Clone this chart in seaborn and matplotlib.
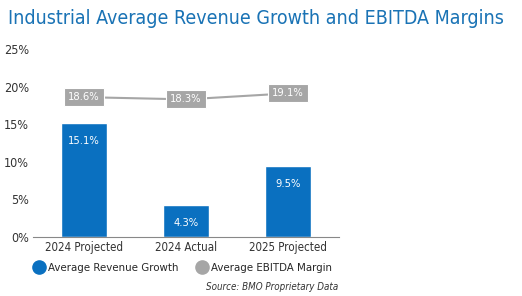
import matplotlib
matplotlib.use("Agg")
import matplotlib.pyplot as plt
import seaborn as sns
import pandas as pd
from matplotlib.lines import Line2D

categories = ["2024 Projected", "2024 Actual", "2025 Projected"]
revenue_growth = [15.1, 4.3, 9.5]
ebitda_margin = [18.6, 18.3, 19.1]

blue = "#0a70c0"
gray = "#a6a6a6"

sns.set_style("white")
plt.rcParams["font.family"] = ["DejaVu Sans"]
plt.rcParams["font.stretch"] = "condensed"

df = pd.DataFrame({"Period": categories, "Revenue": revenue_growth, "EBITDA": ebitda_margin})

fig = plt.figure(figsize=(5.22, 2.96), dpi=100)
ax = fig.add_axes([33 / 522, 1 - 237 / 296, 306 / 522, 188 / 296])

sns.barplot(data=df, x="Period", y="Revenue", color=blue, width=0.46, saturation=1, ax=ax)
sns.lineplot(data=df, x="Period", y="EBITDA", color=gray, linewidth=1.5, sort=False, ax=ax)

# bar labels
for i, v in enumerate(revenue_growth):
    ax.text(i, v - 2.4, f"{v}%", ha="center", va="center", color="white", fontsize=8)

# line labels in gray boxes
for i, v in enumerate(ebitda_margin):
    ax.text(i, v, f"{v}%", ha="center", va="center", color="white", fontsize=8,
            bbox=dict(boxstyle="square,pad=0.35", fc=gray, ec="white", lw=0.8))

ax.set_ylim(0, 25)
ax.set_xlim(-0.5, 2.5)
ax.set_yticks([0, 5, 10, 15, 20, 25])
ax.set_yticklabels([f"{t}%" for t in [0, 5, 10, 15, 20, 25]])
ax.set_xlabel("")
ax.set_ylabel("")
for s in ["top", "right", "left"]:
    ax.spines[s].set_visible(False)
ax.spines["bottom"].set_color("#888888")
ax.tick_params(axis="y", length=0, labelsize=9, labelcolor="#333333", pad=3)
ax.tick_params(axis="x", length=0, labelsize=8.3, labelcolor="#333333", pad=3)
ax.set_xticks([-0.5, 0.5, 1.5, 2.5], minor=True)
ax.tick_params(axis="x", which="minor", length=4, color="#888888", direction="out")

fig.text(8 / 522, 1 - 18 / 296, "Industrial Average Revenue Growth and EBITDA Margins",
         fontsize=14, color="#1a73b5", va="center", ha="left")

handles = [
    Line2D([], [], marker="o", linestyle="", markersize=9.5, markerfacecolor=blue, markeredgecolor=blue),
    Line2D([], [], marker="o", linestyle="", markersize=9.5, markerfacecolor=gray, markeredgecolor=gray),
]
fig.legend(handles, ["Average Revenue Growth", "Average EBITDA Margin"], loc="center left",
           bbox_to_anchor=(28 / 522, 1 - 268 / 296), ncol=2, frameon=False, fontsize=8.2,
           handletextpad=0.15, columnspacing=1.5, borderaxespad=0, handlelength=1.2)

fig.text(338 / 522, 1 - 287 / 296, "Source: BMO Proprietary Data", fontsize=7,
         style="italic", color="#333333", ha="right", va="center")

fig.savefig("out.png", dpi=100)
